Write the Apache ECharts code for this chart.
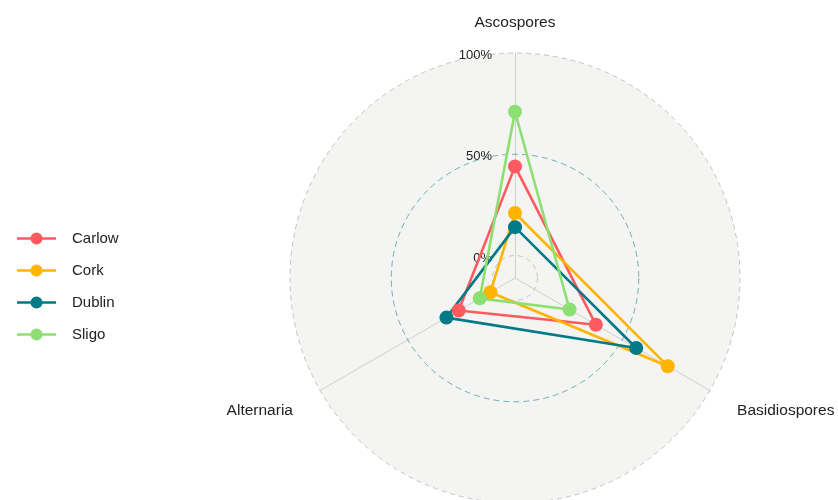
<!DOCTYPE html>
<html><head><meta charset="utf-8">
<script src="https://cdn.jsdelivr.net/npm/echarts@6/dist/echarts.min.js"></script>
<style>html,body{margin:0;padding:0;background:#fff}#c{width:838px;height:500px}</style>
</head><body><div id="c"></div>
<script>
const categories = ['Ascospores', 'Alternaria', 'Basidiospores'];
const groups = ['Carlow', 'Cork', 'Dublin', 'Sligo'];
const carlow = [44, 21, 35];
const cork = [21, 3, 76];
const dublin = [14, 28, 58];
const sligo = [71, 9, 20];
const gridTicks = [0, 50, 100];
const colors = ['#FF5A5F', '#FFB400', '#007A87', '#8CE071'];

const seriesValues = [carlow, cork, dublin, sligo];
const rMin = -100 / 9, rMax = 100;
const CX = 515, CY = 278, R = 225;
const font = 'Liberation Sans, Arial, sans-serif';
const iconPath = 'path://M0,5 L39,5 L39,7.4 L0,7.4 Z M13.5,6.2 A6,6 0 1,1 25.5,6.2 A6,6 0 1,1 13.5,6.2 Z';
const gridColors = ['#c4c4c4', 'rgba(0,122,135,0.55)', '#c4c4c4'];
const gridDash = [[5, 4], [6, 4], [5, 4]];

const polars = gridTicks.map(v => ({center: [CX, CY], radius: R * (v - rMin) / (rMax - rMin), z: 4}));
const angleAxes = gridTicks.map((v, i) => ({
  polarIndex: i, type: 'value', min: 0, max: 360, startAngle: 90, z: 4,
  axisLine: {show: true, lineStyle: {type: gridDash[i], width: 1, color: gridColors[i]}},
  axisTick: {show: false}, axisLabel: {show: false}, splitLine: {show: false}
}));
const radiusAxes = gridTicks.map((v, i) => ({
  polarIndex: i, type: 'value', min: rMin, max: v, interval: v - rMin, z: 4,
  axisLine: {show: false}, axisTick: {show: false}, splitLine: {show: false},
  axisLabel: {showMinLabel: false, showMaxLabel: true, formatter: x => '\n' + Math.round(x) + '%',
    color: '#222', fontSize: 13, lineHeight: 5, fontFamily: font, margin: 23}
}));

const chart = echarts.init(document.getElementById('c'), null, {renderer: 'canvas'});
chart.setOption({
  backgroundColor: '#ffffff',
  animation: false,
  textStyle: {fontFamily: font},
  legend: {
    orient: 'vertical', left: 12, top: 226,
    itemWidth: 39, itemHeight: 14, itemGap: 17,
    textStyle: {fontSize: 15, color: '#222', fontFamily: font, padding: [0, 0, 0, 11]},
    data: groups.map((g, i) => ({name: g, icon: iconPath, itemStyle: {color: colors[i]}}))
  },
  radar: {
    center: [CX, CY], radius: R, shape: 'circle', startAngle: 90, splitNumber: 1,
    indicator: categories.map(c => ({name: c, min: rMin, max: rMax})),
    axisName: {color: '#222', fontSize: 15.5, fontFamily: font, lineHeight: 19, padding: [0, 9, 0, 9], formatter: n => '\n' + n},
    nameGap: 21,
    axisLine: {lineStyle: {color: '#cfcfcf', width: 1}},
    splitLine: {show: false},
    splitArea: {areaStyle: {color: ['#f4f4f3']}},
    axisLabel: {show: false},
    z: 0
  },
  polar: polars,
  angleAxis: angleAxes,
  radiusAxis: radiusAxes,
  series: [{
    type: 'radar', z: 5,
    symbol: 'circle', symbolSize: 14,
    data: groups.map((g, i) => ({
      name: g, value: seriesValues[i],
      itemStyle: {color: colors[i]},
      lineStyle: {color: colors[i], width: 2.6}
    }))
  }]
});
</script></body></html>
